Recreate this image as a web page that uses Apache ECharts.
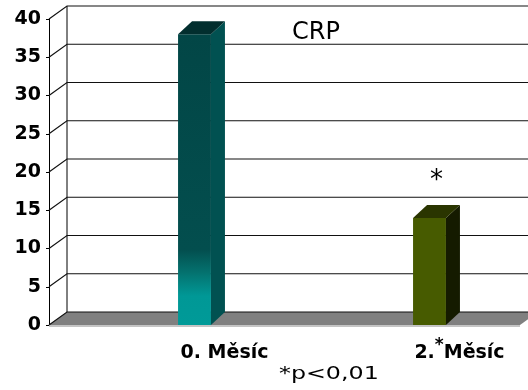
<!DOCTYPE html>
<html>
<head>
<meta charset="utf-8">
<script src="https://cdn.jsdelivr.net/npm/echarts@6/dist/echarts.min.js"></script>
<style>
  html, body { margin: 0; padding: 0; background: #fff; }
  #chart { width: 528px; height: 390px; }
</style>
</head>
<body>
<div id="chart"></div>
<script>
// CRP at month 0 and month 2
const categories = ['0. Měsíc', '2. Měsíc'];
const crpValues = [38, 14];
const significance = ['', '*'];
const yTicks = [0, 5, 10, 15, 20, 25, 30, 35, 40];
const footnote = '*p<0,01';

// face colours of each 3D column
const faceColors = [
  {
    front: new echarts.graphic.LinearGradient(0, 0, 0, 1, [
      { offset: 0, color: '#024646' },
      { offset: 0.74, color: '#034e4e' },
      { offset: 0.82, color: '#04726f' },
      { offset: 0.90, color: '#009896' },
      { offset: 1, color: '#009a98' }
    ]),
    side: '#015151',
    top: '#022e2e'
  },
  { front: '#475b00', side: '#151b00', top: '#2a3500' }
];

// pseudo-3D offsets (px) of the back wall and of the column depth
const WALL_DX = 18, WALL_DY = -13;
const BAR_DX = 14, BAR_DY = -13;

const font = 'DejaVu Sans';
const chart = echarts.init(document.getElementById('chart'));

chart.setOption({
  animation: false,
  backgroundColor: '#fff',
  title: [{
    text: 'CRP',
    left: 292, top: 21, padding: 0,
    textStyle: { fontFamily: font, fontWeight: 'normal', fontSize: 24, color: '#000' }
  }],
  graphic: [{
    type: 'text',
    x: 279, y: 365,
    scaleX: 1.32,
    style: { text: footnote, font: '18px "DejaVu Sans"', fill: '#000' }
  }],
  grid: [
    // front plane: value axis and wall
    { left: 49, top: 19, bottom: 65, right: 8, outerBoundsMode: 'none' },
    // column plane: category axis
    { left: 77, top: 19, bottom: 65, width: 470, outerBoundsMode: 'none' }
  ],
  xAxis: [
    { gridIndex: 0, type: 'value', min: 0, max: 1, show: false },
    {
      gridIndex: 1, type: 'category', data: categories,
      axisLine: { show: false }, axisTick: { show: false },
      axisLabel: {
        margin: 12,
        formatter: function (value, index) {
          const parts = value.split(' ');
          const mid = significance[index] ? '{s|' + significance[index] + '}' : '{a| }';
          return '{g|}{a|' + parts[0] + '}' + mid + '{a|' + parts[1] + '}';
        },
        rich: {
          g: { width: 60 },
          a: { fontFamily: font, fontWeight: 'bold', fontSize: 19, color: '#000', lineHeight: 26, verticalAlign: 'bottom' },
          s: { fontFamily: font, fontWeight: 'bold', fontSize: 17, color: '#000', lineHeight: 17, verticalAlign: 'top' }
        }
      }
    }
  ],
  yAxis: [
    {
      gridIndex: 0, type: 'value', min: 0, max: 40, interval: 5,
      axisLine: { show: true, lineStyle: { color: '#000', width: 1 } },
      axisTick: { show: true, length: 3, lineStyle: { color: '#000' } },
      splitLine: { show: false },
      axisLabel: { margin: 8, fontFamily: font, fontWeight: 'bold', fontSize: 19, color: '#000' }
    },
    { gridIndex: 1, type: 'value', min: 0, max: 40, interval: 5, show: false }
  ],
  series: [
    {
      // floor, back wall and grid lines
      type: 'custom',
      xAxisIndex: 0, yAxisIndex: 0,
      silent: true, z: 1,
      data: yTicks.map(v => [0, v]),
      encode: { x: 0, y: 1 },
      renderItem: function (params, api) {
        const v = api.value(1);
        const p = api.coord([0, v]);
        const rightEdge = api.getWidth();
        const children = [];
        if (v === 0) {
          const frontRight = params.coordSys.x + params.coordSys.width;
          const pTop = api.coord([0, yTicks[yTicks.length - 1]]);
          children.push({
            type: 'polygon',
            shape: { points: [[p[0], p[1]], [frontRight, p[1]], [frontRight + WALL_DX, p[1] + WALL_DY], [p[0] + WALL_DX, p[1] + WALL_DY]] },
            style: { fill: '#808080' }
          });
          children.push({
            type: 'line',
            shape: { x1: p[0], y1: p[1] + 1, x2: frontRight, y2: p[1] + 1 },
            style: { stroke: '#c4c4c4', lineWidth: 2 }
          });
          children.push({
            type: 'line',
            shape: { x1: p[0] + WALL_DX, y1: p[1] + WALL_DY, x2: pTop[0] + WALL_DX, y2: pTop[1] + WALL_DY },
            style: { stroke: '#000', lineWidth: 1 }
          });
        }
        children.push({
          type: 'polyline',
          shape: { points: [[p[0], p[1]], [p[0] + WALL_DX, p[1] + WALL_DY], [rightEdge, p[1] + WALL_DY]] },
          style: { stroke: '#111', lineWidth: 1.2, fill: null }
        });
        return { type: 'group', children: children };
      }
    },
    {
      // 3D columns
      type: 'custom',
      xAxisIndex: 1, yAxisIndex: 1,
      z: 3,
      data: crpValues.map((v, i) => [i, v]),
      encode: { x: 0, y: 1 },
      renderItem: function (params, api) {
        const i = api.value(0);
        const v = api.value(1);
        const top = api.coord([i, v]);
        const base = api.coord([i, 0]);
        const hw = api.size([1, 0])[0] * 0.07;
        const xl = top[0] - hw, xr = top[0] + hw;
        const c = faceColors[i];
        return {
          type: 'group',
          children: [
            {
              type: 'rect',
              shape: { x: xl, y: top[1], width: 2 * hw, height: base[1] - top[1] },
              style: { fill: c.front }
            },
            {
              type: 'polygon',
              shape: { points: [[xr, top[1]], [xr + BAR_DX, top[1] + BAR_DY], [xr + BAR_DX, base[1] + BAR_DY], [xr, base[1]]] },
              style: { fill: c.side }
            },
            {
              type: 'polygon',
              shape: { points: [[xl, top[1]], [xl + BAR_DX, top[1] + BAR_DY], [xr + BAR_DX, top[1] + BAR_DY], [xr, top[1]]] },
              style: { fill: c.top }
            },
            {
              type: 'text',
              x: top[0] + BAR_DX / 2, y: top[1] - 37,
              style: { text: significance[i], font: '26px "DejaVu Sans"', fill: '#000', align: 'center', verticalAlign: 'middle' }
            }
          ]
        };
      }
    }
  ]
});
</script>
</body>
</html>
